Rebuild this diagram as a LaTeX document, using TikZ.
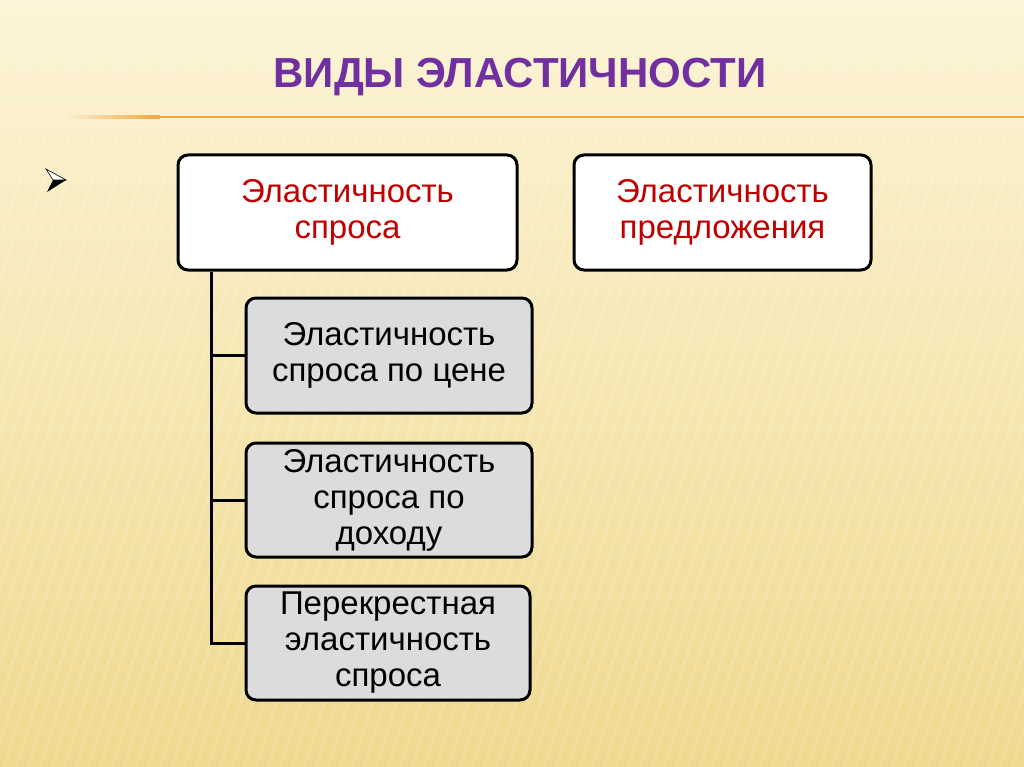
\documentclass[tikz,border=0pt]{standalone}
\usepackage{fontspec}
\setmainfont{Liberation Sans}
\definecolor{bgtop}{HTML}{FCF4D6}
\definecolor{bgbottom}{HTML}{F0D98E}
\definecolor{titlepurple}{HTML}{7030A0}
\definecolor{ruleorange}{HTML}{F0A540}
\definecolor{slidered}{HTML}{C00000}
\definecolor{boxgray}{HTML}{DCDCDC}
\usetikzlibrary{positioning, calc}

\begin{document}
\begin{tikzpicture}[x=1pt, y=-1pt,
    topbox/.style={draw=black, line width=3pt, rounded corners=10pt,
                   fill=white, text=slidered, align=center, inner sep=2pt,
                   font=\fontsize{33}{36}\selectfont},
    subbox/.style={topbox, fill=boxgray, text=black},
    branch/.style={black, line width=3pt}]
        % ---- slide background ----
        \useasboundingbox (0,0) rectangle (1024,767);
        \shade[top color=bgtop, bottom color=bgbottom] (0,0) rectangle (1024,767);
        \foreach \x in {-320,-308,...,1024}
          \draw[white, opacity=0.13, line width=3pt] (\x,767) -- (\x+240,0);
        % ---- title and rule ----
        \node[font=\fontsize{42}{50}\selectfont\bfseries, text=titlepurple]
              (title) at (520,77) {ВИДЫ ЭЛАСТИЧНОСТИ};
        \shade[left color=bgtop, right color=ruleorange]
              (60,116) rectangle (160,118.5);
        \fill[ruleorange] (160,116) rectangle (1024,118.5);
        % ---- bullet ----
        \fill[black] (47,192) -- (66,180) -- (53,180) -- cycle;
        \filldraw[fill=white, draw=black, line width=0.6pt]
              (46,169) -- (66,180) -- (53,180) -- cycle;
        % ---- top level ----
        \node[topbox, minimum width=339, minimum height=115]
              (demand) at (347.5,212.5) {Эластичность\\спроса};
        \node[topbox, minimum width=297, minimum height=115]
              (supply) at (722.5,212.5) {Эластичность\\предложения};
        % ---- demand branches ----
        \node[subbox, minimum width=286, minimum height=115]
              (price) at (389,355.5) {Эластичность\\спроса по цене};
        \node[subbox, minimum width=286, minimum height=114]
              (income) at (389,500) {Эластичность\\спроса по\\доходу};
        \node[subbox, minimum width=284, minimum height=114]
              (cross) at (388,643) {Перекрестная\\эластичность\\спроса};
        % connectors
        \coordinate (trunk) at ([xshift=35pt]demand.south west);
        \draw[branch] (trunk) |- (price.west);
        \draw[branch] (trunk) |- (income.west);
        \draw[branch] (trunk) |- (cross.west);
      \end{tikzpicture}
\end{document}
